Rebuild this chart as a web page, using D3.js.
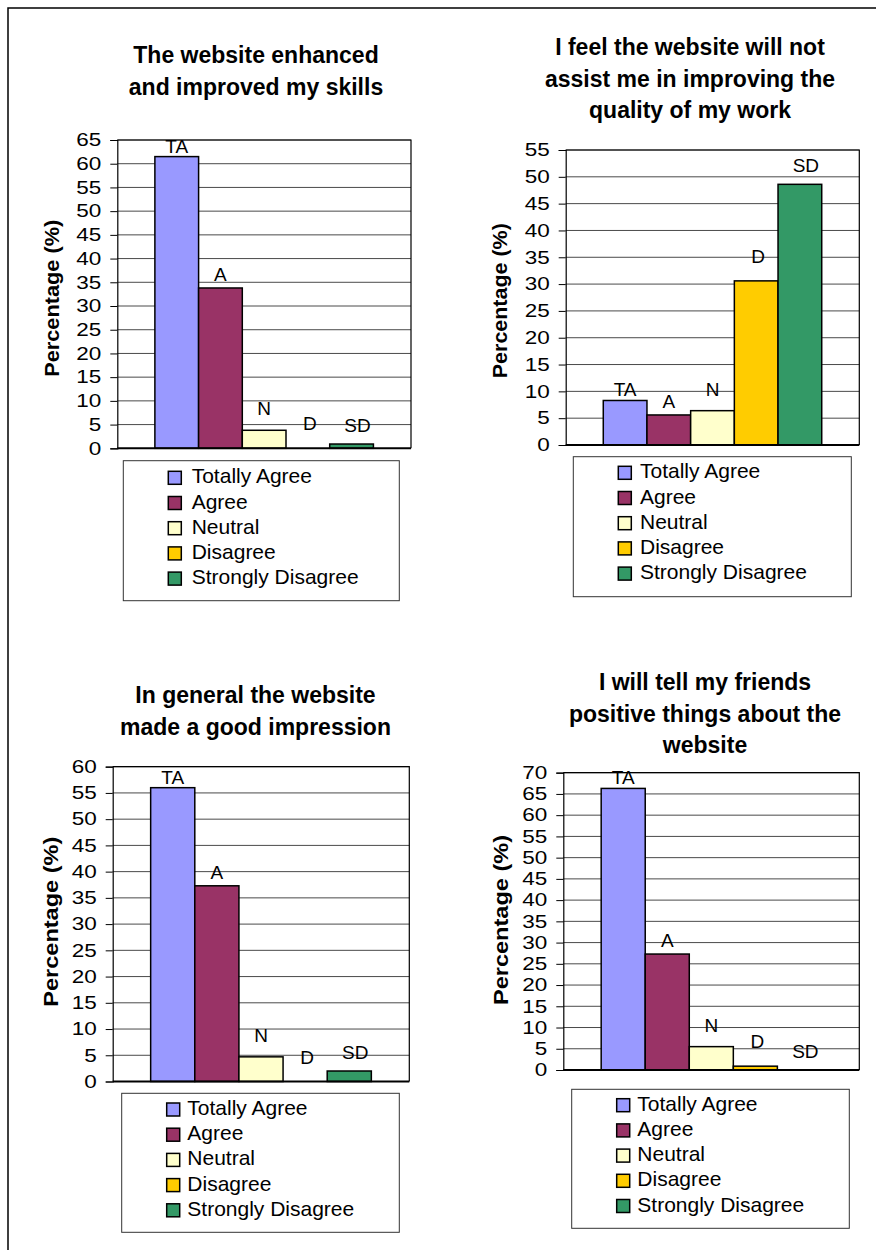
<!DOCTYPE html>
<html>
<head>
<meta charset="utf-8">
<script src="https://cdn.jsdelivr.net/npm/d3@7"></script>
<style>
  html, body { margin: 0; padding: 0; background: #fff; }
  svg { display: block; }
  text { font-family: "Liberation Sans", Arial, sans-serif; fill: #000; }
</style>
</head>
<body>
<svg id="fig" width="876" height="1250"></svg>
<script>
// Response categories shared by the four survey questions
const categories = ["Totally Agree", "Agree", "Neutral", "Disagree", "Strongly Disagree"];
const codes = ["TA", "A", "N", "D", "SD"];
const colors = ["#9999FF", "#993366", "#FFFFCC", "#FFCC00", "#339966"];

// Percentage of respondents per category, one array per question
const skillsValues = [61.5, 33.8, 3.8, 0, 0.9];
const qualityValues = [8.3, 5.6, 6.4, 30.6, 48.6];
const impressionValues = [56.0, 37.3, 4.7, 0, 2.0];
const friendsValues = [66.3, 27.3, 5.5, 0.9, 0];

// Question titles (already broken into lines)
const skillsTitle = ["The website enhanced", "and improved my skills"];
const qualityTitle = ["I feel the website will not", "assist me in improving the", "quality of my work"];
const impressionTitle = ["In general the website", "made a good impression"];
const friendsTitle = ["I will tell my friends", "positive things about the", "website"];

// Axis maxima and tick step
const yMaxes = [65, 55, 60, 70];
const tickStep = 5;
const yAxisLabel = "Percentage (%)";

// Layout of each panel on the page
const panels = [
  { values: skillsValues, title: skillsTitle, yMax: yMaxes[0],
    plot: { x0: 117.3, x1: 411, y0: 140, y1: 448.3 },
    titleX: 256, titleY: 63.3, axisTitleX: 52.7, axisTitleY: 298.3, axisTitleLen: 157,
    legend: { x: 123.3, y: 460.7, w: 276, h: 140, sx: 168.3, tx: 191.7, by: 483.3 } },
  { values: qualityValues, title: qualityTitle, yMax: yMaxes[1],
    plot: { x0: 565.7, x1: 859.3, y0: 150, y1: 445 },
    titleX: 690, titleY: 55, axisTitleX: 500.7, axisTitleY: 300.7, axisTitleLen: 155,
    legend: { x: 573.3, y: 456.7, w: 278, h: 140, sx: 618.3, tx: 640, by: 478.3 } },
  { values: impressionValues, title: impressionTitle, yMax: yMaxes[2],
    plot: { x0: 112.7, x1: 409.3, y0: 766.7, y1: 1081.5 },
    titleX: 255.5, titleY: 703.3, axisTitleX: 52.3, axisTitleY: 921.7, axisTitleLen: 170,
    legend: { x: 121.7, y: 1093.3, w: 277.6, h: 139, sx: 166.7, tx: 187.3, by: 1115 } },
  { values: friendsValues, title: friendsTitle, yMax: yMaxes[3],
    plot: { x0: 563.3, x1: 859.3, y0: 772.7, y1: 1070 },
    titleX: 705, titleY: 690, axisTitleX: 501.7, axisTitleY: 920, axisTitleLen: 170,
    legend: { x: 571.7, y: 1089.3, w: 277.6, h: 139, sx: 616.7, tx: 637.3, by: 1110.7 } }
];

// How far each bar's code label sits above its bar top
const labelLift = { TA: 4, A: 7, N: 15, D: 18, SD: 12 };
const labelShift = { TA: 0, A: 0, N: 0, D: 2, SD: 6 };

// Tick labels use a slightly widened face
const tickScaleX = 1.25;

const svg = d3.select("#fig");

// Page frame
svg.append("path")
  .attr("d", "M8,1250 V8 H876")
  .attr("fill", "none")
  .attr("stroke", "#000")
  .attr("stroke-width", 1.5);

panels.forEach(p => {
  const g = svg.append("g");
  const { x0, x1, y0, y1 } = p.plot;

  const y = d3.scaleLinear().domain([0, p.yMax]).range([y1, y0]);
  const x = d3.scaleBand().domain(codes).range([x0, x1])
    .paddingInner(0).paddingOuter(0.86);

  const ticks = d3.range(0, p.yMax + tickStep / 2, tickStep);

  // Horizontal gridlines
  g.append("g").selectAll("line").data(ticks.filter(t => t > 0)).join("line")
    .attr("x1", x0).attr("x2", x1)
    .attr("y1", d => y(d)).attr("y2", d => y(d))
    .attr("stroke", "#4a4a4a").attr("stroke-width", 1);

  // Plot frame (top and right)
  g.append("path")
    .attr("d", `M${x0},${y0} H${x1} V${y1}`)
    .attr("fill", "none").attr("stroke", "#000").attr("stroke-width", 1.2);

  // Y axis
  const axis = d3.axisLeft(y).tickValues(ticks).tickSize(7).tickPadding(5.8)
    .tickFormat(d3.format("d"));
  const ag = g.append("g").attr("transform", `translate(${x0},0)`).call(axis);
  ag.select(".domain").attr("stroke", "#000").attr("stroke-width", 1.2);
  ag.selectAll(".tick line").attr("stroke", "#000").attr("stroke-width", 1);
  ag.selectAll(".tick text")
    .attr("font-size", 18).attr("fill", "#000")
    .attr("font-family", "Liberation Sans, Arial, sans-serif")
    .attr("transform", `scale(${tickScaleX},1)`);

  // Bars
  const data = codes.map((c, i) => ({ code: c, value: p.values[i], color: colors[i] }));
  g.append("g").selectAll("rect").data(data.filter(d => d.value > 0)).join("rect")
    .attr("x", d => x(d.code))
    .attr("width", x.bandwidth())
    .attr("y", d => y(d.value))
    .attr("height", d => y(0) - y(d.value))
    .attr("fill", d => d.color)
    .attr("stroke", "#000").attr("stroke-width", 1.5);

  // Baseline
  g.append("line")
    .attr("x1", x0).attr("x2", x1).attr("y1", y1).attr("y2", y1)
    .attr("stroke", "#000").attr("stroke-width", 2);

  // Code labels above bars
  g.append("g").selectAll("text").data(data).join("text")
    .attr("x", d => x(d.code) + x.bandwidth() / 2 + labelShift[d.code])
    .attr("y", d => y(d.value) - labelLift[d.code])
    .attr("text-anchor", "middle")
    .attr("font-size", 19)
    .text(d => d.code);

  // Chart title
  g.append("text")
    .attr("x", p.titleX).attr("y", p.titleY)
    .attr("text-anchor", "middle")
    .attr("font-size", 23).attr("font-weight", "bold")
    .selectAll("tspan").data(p.title).join("tspan")
    .attr("x", p.titleX)
    .attr("dy", (d, i) => i === 0 ? 0 : 31.7)
    .text(d => d);

  // Y axis title
  g.append("text")
    .attr("transform", `translate(${p.axisTitleX + 6},${p.axisTitleY}) rotate(-90)`)
    .attr("text-anchor", "middle")
    .attr("font-size", 20).attr("font-weight", "bold")
    .attr("textLength", p.axisTitleLen)
    .attr("lengthAdjust", "spacingAndGlyphs")
    .text(yAxisLabel);

  // Legend
  const L = p.legend;
  g.append("rect")
    .attr("x", L.x).attr("y", L.y).attr("width", L.w).attr("height", L.h)
    .attr("fill", "#fff").attr("stroke", "#333").attr("stroke-width", 1);
  const rows = g.append("g").selectAll("g").data(categories).join("g")
    .attr("transform", (d, i) => `translate(0,${L.by + i * 25.2})`);
  rows.append("rect")
    .attr("x", L.sx).attr("y", -12).attr("width", 13).attr("height", 13)
    .attr("fill", (d, i) => colors[i])
    .attr("stroke", "#000").attr("stroke-width", 1.5);
  rows.append("text")
    .attr("x", L.tx).attr("y", 0)
    .attr("font-size", 21)
    .text(d => d);
});
</script>
</body>
</html>
